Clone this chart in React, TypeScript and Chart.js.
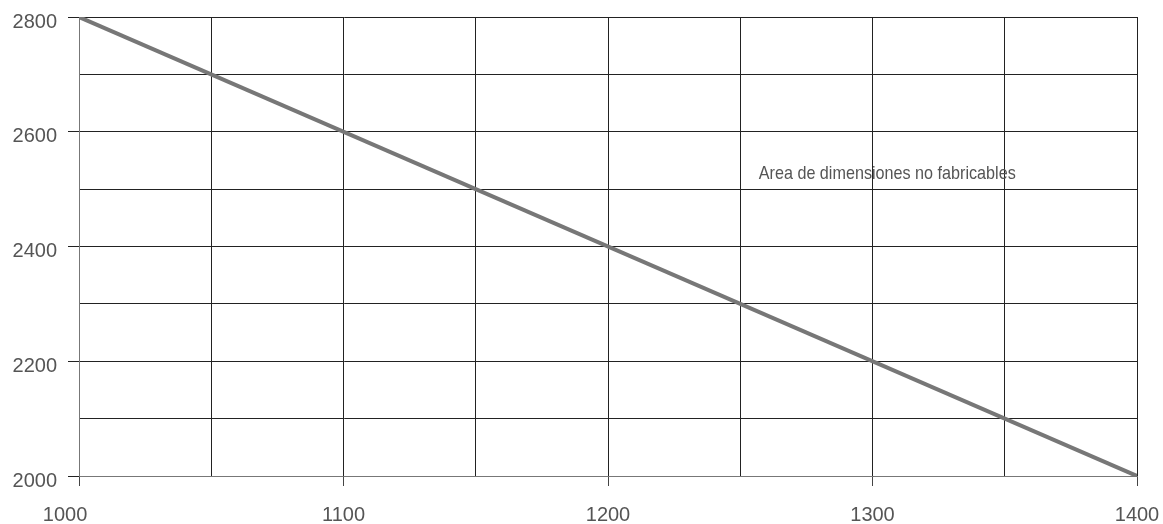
import React, { useEffect, useRef } from "react";
import { Chart, registerables } from "chart.js";

Chart.register(...registerables);

const xValues = [1000, 1400];
const yValues = [2800, 2000];
const annotationText = "Area de dimensiones no fabricables";
const annotationX = 1257;
const annotationY = 2527;

const annotationPlugin = {
  id: "areaLabel",
  afterDatasetsDraw(chart: any) {
    const { ctx, scales } = chart;
    const px = scales.x.getPixelForValue(annotationX);
    const py = scales.y.getPixelForValue(annotationY);
    ctx.save();
    ctx.font = '19px "Liberation Sans Narrow", "Arial Narrow", "Liberation Sans", sans-serif';
    ctx.fillStyle = "#555";
    ctx.textBaseline = "middle";
    ctx.textAlign = "left";
    const w = ctx.measureText(annotationText).width;
    const target = 257;
    ctx.translate(px, py);
    ctx.scale(target / w, 1);
    ctx.fillText(annotationText, 0, 0);
    ctx.restore();
  },
};

export default function App() {
  const ref = useRef<HTMLCanvasElement | null>(null);
  useEffect(() => {
    document.body.style.margin = "0";
    const canvas = ref.current!;
    const chart = new Chart(canvas, {
      type: "line",
      data: {
        datasets: [
          {
            data: xValues.map((x, i) => ({ x, y: yValues[i] })),
            borderColor: "#777",
            borderWidth: 4,
            pointRadius: 0,
            fill: false,
          },
        ],
      },
      options: {
        animation: false,
        responsive: false,
        maintainAspectRatio: false,
        layout: { padding: { top: 17, right: 26, left: 0, bottom: 0 } },
        plugins: { legend: { display: false }, tooltip: { enabled: false } },
        scales: {
          x: {
            type: "linear",
            min: 1000,
            max: 1400,
            afterFit: (s: any) => {
              s.height = 48;
              s.paddingLeft = 0;
              s.paddingRight = 0;
            },
            ticks: {
              stepSize: 50,
              autoSkip: false,
              maxRotation: 0,
              padding: 17,
              color: "#555",
              font: { family: '"Liberation Sans", Arial, sans-serif', size: 20 },
              callback: (v: any) => {
                const n = Number(v);
                if (n % 100 !== 0) return "";
                return n === 1000 ? String(v) + "     " : String(v);
              },
            },
            grid: {
              color: "#222",
              lineWidth: 1,
              tickLength: 10,
              drawTicks: true,
              tickColor: (c: any) =>
                c.tick && Number(c.tick.value) % 100 === 0 ? "#444" : "rgba(0,0,0,0)",
            },
            border: { color: "#777", width: 1 },
          },
          y: {
            type: "linear",
            min: 2000,
            max: 2800,
            afterFit: (s: any) => {
              s.width = 79;
              s.paddingTop = 0;
              s.paddingBottom = 0;
            },
            ticks: {
              stepSize: 100,
              autoSkip: false,
              padding: 11,
              labelOffset: 5,
              color: "#555",
              font: { family: '"Liberation Sans", Arial, sans-serif', size: 20 },
              callback: (v: any) => (Number(v) % 200 === 0 ? String(v) : ""),
            },
            grid: {
              color: "#222",
              lineWidth: 1,
              tickLength: 11,
              drawTicks: true,
              tickColor: (c: any) =>
                c.tick && Number(c.tick.value) % 200 === 0 ? "#222" : "rgba(0,0,0,0)",
            },
            border: { color: "#777", width: 1 },
          },
        },
      },
      plugins: [annotationPlugin],
    });
    return () => chart.destroy();
  }, []);
  return <canvas ref={ref} width={1163} height={524} style={{ display: "block" }} />;
}
